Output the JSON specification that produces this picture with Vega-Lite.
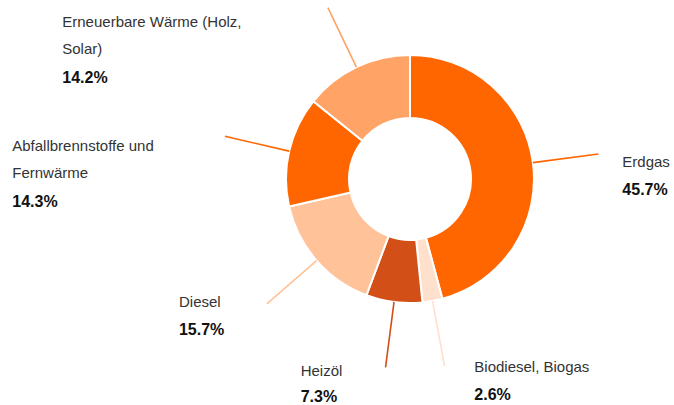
{
  "$schema": "https://vega.github.io/schema/vega-lite/v6.json",
  "width": 300,
  "height": 300,
  "autosize": {"type": "none"},
  "padding": {"left": 260, "top": 29, "right": 114, "bottom": 76},
  "background": "white",
  "config": {"view": {"stroke": null}},
  "data": {
    "values": [
      {"name": "Erdgas", "value": 0.457, "order": 1},
      {"name": "Biodiesel, Biogas", "value": 0.026, "order": 2},
      {"name": "Heizöl", "value": 0.073, "order": 3},
      {"name": "Diesel", "value": 0.157, "order": 4},
      {"name": "Abfallbrennstoffe und\nFernwärme", "value": 0.143, "order": 5},
      {"name": "Erneuerbare Wärme (Holz,\nSolar)", "value": 0.142, "order": 6}
    ]
  },
  "encoding": {
    "theta": {"field": "value", "type": "quantitative", "stack": true},
    "order": {"field": "order", "type": "quantitative"}
  },
  "layer": [
    {
      "mark": {"type": "arc", "outerRadius": 124, "innerRadius": 61, "stroke": "white", "strokeWidth": 2},
      "encoding": {
        "color": {
          "field": "name", "type": "nominal", "legend": null,
          "scale": {
            "domain": ["Erdgas", "Biodiesel, Biogas", "Heizöl", "Diesel", "Abfallbrennstoffe und\nFernwärme", "Erneuerbare Wärme (Holz,\nSolar)"],
            "range": ["#FF6600", "#FFE0CC", "#D24F17", "#FFC299", "#FF6600", "#FFA366"]
          }
        }
      }
    },
    {
      "mark": {"type": "arc", "filled": false, "outerRadius": 190, "innerRadius": 124, "padAngle": 3.1, "strokeWidth": 1.6, "strokeCap": "round"},
      "encoding": {
        "color": {"field": "name", "type": "nominal", "legend": null}
      }
    },
    {
      "mark": {"type": "text", "radius": 190, "align": "left", "baseline": "alphabetic", "dx": 24, "dy": 12.6, "font": "Liberation Sans", "fontSize": 15, "fill": "#333333", "lineBreak": "\n", "lineHeight": 27.5},
      "encoding": {"text": {"condition": {"test": "datum.order === 1", "field": "name", "type": "nominal"}, "value": ""}}
    },
    {
      "mark": {"type": "text", "radius": 190, "align": "left", "baseline": "alphabetic", "dx": 24, "dy": 41.4, "font": "Liberation Sans", "fontSize": 16, "fontWeight": "bold", "fill": "#111111"},
      "encoding": {"text": {"condition": {"test": "datum.order === 1", "field": "value", "type": "quantitative", "format": ".1%"}, "value": ""}}
    },
    {
      "mark": {"type": "text", "radius": 190, "align": "left", "baseline": "alphabetic", "dx": 29.8, "dy": 6.2, "font": "Liberation Sans", "fontSize": 15, "fill": "#333333", "lineBreak": "\n", "lineHeight": 27.5},
      "encoding": {"text": {"condition": {"test": "datum.order === 2", "field": "name", "type": "nominal"}, "value": ""}}
    },
    {
      "mark": {"type": "text", "radius": 190, "align": "left", "baseline": "alphabetic", "dx": 29.8, "dy": 34.4, "font": "Liberation Sans", "fontSize": 16, "fontWeight": "bold", "fill": "#111111"},
      "encoding": {"text": {"condition": {"test": "datum.order === 2", "field": "value", "type": "quantitative", "format": ".1%"}, "value": ""}}
    },
    {
      "mark": {"type": "text", "radius": 190, "align": "left", "baseline": "alphabetic", "dx": -84.9, "dy": 8.6, "font": "Liberation Sans", "fontSize": 15, "fill": "#333333", "lineBreak": "\n", "lineHeight": 27.5},
      "encoding": {"text": {"condition": {"test": "datum.order === 3", "field": "name", "type": "nominal"}, "value": ""}}
    },
    {
      "mark": {"type": "text", "radius": 190, "align": "left", "baseline": "alphabetic", "dx": -84.9, "dy": 34.2, "font": "Liberation Sans", "fontSize": 16, "fontWeight": "bold", "fill": "#111111"},
      "encoding": {"text": {"condition": {"test": "datum.order === 3", "field": "value", "type": "quantitative", "format": ".1%"}, "value": ""}}
    },
    {
      "mark": {"type": "text", "radius": 190, "align": "left", "baseline": "alphabetic", "dx": -87.9, "dy": 2.6, "font": "Liberation Sans", "fontSize": 15, "fill": "#333333", "lineBreak": "\n", "lineHeight": 27.5},
      "encoding": {"text": {"condition": {"test": "datum.order === 4", "field": "name", "type": "nominal"}, "value": ""}}
    },
    {
      "mark": {"type": "text", "radius": 190, "align": "left", "baseline": "alphabetic", "dx": -87.9, "dy": 31.1, "font": "Liberation Sans", "fontSize": 16, "fontWeight": "bold", "fill": "#111111"},
      "encoding": {"text": {"condition": {"test": "datum.order === 4", "field": "value", "type": "quantitative", "format": ".1%"}, "value": ""}}
    },
    {
      "mark": {"type": "text", "radius": 190, "align": "left", "baseline": "alphabetic", "dx": -212.6, "dy": 14.2, "font": "Liberation Sans", "fontSize": 15, "fill": "#333333", "lineBreak": "\n", "lineHeight": 27.5},
      "encoding": {"text": {"condition": {"test": "datum.order === 5", "field": "name", "type": "nominal"}, "value": ""}}
    },
    {
      "mark": {"type": "text", "radius": 190, "align": "left", "baseline": "alphabetic", "dx": -212.6, "dy": 70.2, "font": "Liberation Sans", "fontSize": 16, "fontWeight": "bold", "fill": "#111111"},
      "encoding": {"text": {"condition": {"test": "datum.order === 5", "field": "value", "type": "quantitative", "format": ".1%"}, "value": ""}}
    },
    {
      "mark": {"type": "text", "radius": 190, "align": "left", "baseline": "alphabetic", "dx": -265.6, "dy": 19.3, "font": "Liberation Sans", "fontSize": 15, "fill": "#333333", "lineBreak": "\n", "lineHeight": 27.5},
      "encoding": {"text": {"condition": {"test": "datum.order === 6", "field": "name", "type": "nominal"}, "value": ""}}
    },
    {
      "mark": {"type": "text", "radius": 190, "align": "left", "baseline": "alphabetic", "dx": -265.6, "dy": 75.3, "font": "Liberation Sans", "fontSize": 16, "fontWeight": "bold", "fill": "#111111"},
      "encoding": {"text": {"condition": {"test": "datum.order === 6", "field": "value", "type": "quantitative", "format": ".1%"}, "value": ""}}
    }
  ]
}
